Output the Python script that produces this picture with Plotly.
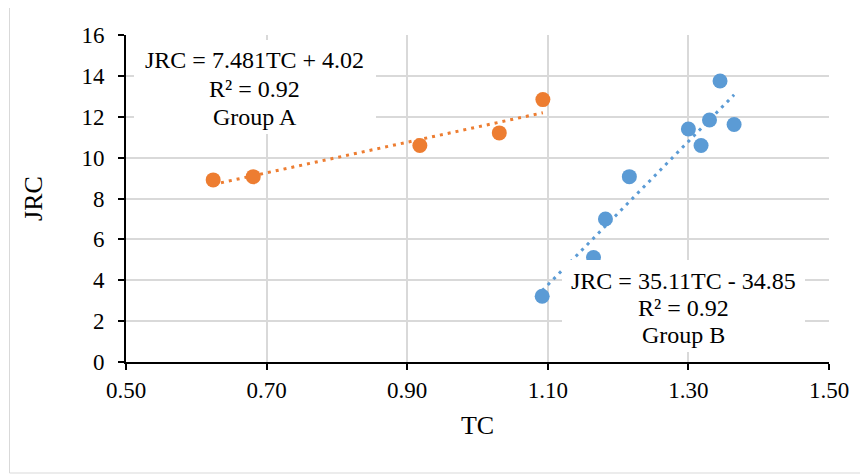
import plotly.graph_objects as go

# ---- data ----
group_a_tc = [0.624, 0.681, 0.918, 1.031, 1.093]
group_a_jrc = [8.91, 9.07, 10.59, 11.21, 12.84]
group_b_tc = [1.092, 1.165, 1.182, 1.216, 1.300, 1.318, 1.330, 1.345, 1.365]
group_b_jrc = [3.22, 5.11, 7.00, 9.07, 11.40, 10.59, 11.84, 13.75, 11.62]

# trendline coefficients as printed on the chart
fit_a = (7.481, 4.02)
fit_b = (35.11, -34.85)

x_ticks = [0.5, 0.7, 0.9, 1.1, 1.3, 1.5]
x_tick_labels = ["0.50", "0.70", "0.90", "1.10", "1.30", "1.50"]
y_ticks = [0, 2, 4, 6, 8, 10, 12, 14, 16]

label_a = ["JRC = 7.481TC + 4.02", "R² = 0.92", "Group A"]
label_b = ["JRC = 35.11TC - 34.85", "R² = 0.92", "Group B"]

ORANGE = "#ED7D31"
BLUE = "#5B9BD5"
FONT = "Liberation Serif, Times New Roman, serif"

OFF = 8  # page body offset of the rendered figure
W, H = 868, 475
L, T = 126 - OFF, 35 - OFF
PW, PH = 703, 327
R, B = W - L - PW, H - T - PH
XMIN, XMAX, YMIN, YMAX = 0.5, 1.5, 0, 16


def px2x(px):
    return XMIN + (px - 126) / PW * (XMAX - XMIN)


def px2y(py):
    return YMIN + (35 + PH - py) / PH * (YMAX - YMIN)


def trend(xs, coef):
    x0, x1 = min(xs), max(xs)
    return [x0, x1], [coef[0] * x0 + coef[1], coef[0] * x1 + coef[1]]


fig = go.Figure()

for xs, ys, coef, col, name in [
    (group_a_tc, group_a_jrc, fit_a, ORANGE, "Group A"),
    (group_b_tc, group_b_jrc, fit_b, BLUE, "Group B"),
]:
    tx, ty = trend(xs, coef)
    fig.add_trace(go.Scatter(x=tx, y=ty, mode="lines",
                             line=dict(color=col, width=3, dash="3px,5px"),
                             showlegend=False, hoverinfo="skip"))
    fig.add_trace(go.Scatter(x=xs, y=ys, mode="markers", name=name,
                             marker=dict(color=col, size=15),
                             showlegend=False))

# white label boxes (hide grid and points underneath)
boxes = [(134, 376, 40, 134), (562, 805, 260, 352)]
for x0, x1, y0, y1 in boxes:
    fig.add_shape(type="rect", xref="x", yref="y",
                  x0=px2x(x0), x1=px2x(x1), y0=px2y(y1), y1=px2y(y0),
                  fillcolor="white", line=dict(width=0), layer="above")

for lines, cx, ys in [(label_a, 254.5, [60, 88.5, 117]),
                      (label_b, 683.5, [281, 308, 335])]:
    for txt, cy in zip(lines, ys):
        fig.add_annotation(x=px2x(cx), y=px2y(cy), xref="x", yref="y",
                           text=txt, showarrow=False,
                           font=dict(family=FONT, size=24, color="black"),
                           xanchor="center", yanchor="middle")

# outer chart border
fig.add_shape(type="rect", xref="paper", yref="paper",
              x0=(9.5 - 126) / PW, x1=(866.5 - 126) / PW,
              y0=(35 + PH - 473) / PH, y1=(35 + PH - 6) / PH,
              line=dict(color="#d9d9d9", width=1), layer="below")

fig.update_layout(
    width=W, height=H,
    margin=dict(l=L, r=R, t=T, b=B, autoexpand=False),
    paper_bgcolor="white", plot_bgcolor="white",
    font=dict(family=FONT, color="black"),
    xaxis=dict(range=[XMIN, XMAX], tickvals=x_ticks, ticktext=x_tick_labels,
               showgrid=True, gridcolor="#d9d9d9", gridwidth=1.5,
               showline=True, linecolor="black", linewidth=2,
               ticks="outside", ticklen=6, tickwidth=1.5, tickcolor="black",
               tickfont=dict(size=23, color="black"), zeroline=False,
               title=dict(text="TC", font=dict(size=26, color="black"), standoff=14),
               automargin=False),
    yaxis=dict(range=[YMIN, YMAX], tickvals=y_ticks,
               showgrid=True, gridcolor="#d9d9d9", gridwidth=1.5,
               showline=True, linecolor="black", linewidth=2,
               ticks="outside", ticklen=6, tickwidth=1.5, tickcolor="black",
               tickfont=dict(size=23, color="black"), zeroline=False,
               ticklabelstandoff=9,
               title=dict(text="JRC", font=dict(size=26, color="black"), standoff=31),
               automargin=False),
)

fig.write_html("out.html")
